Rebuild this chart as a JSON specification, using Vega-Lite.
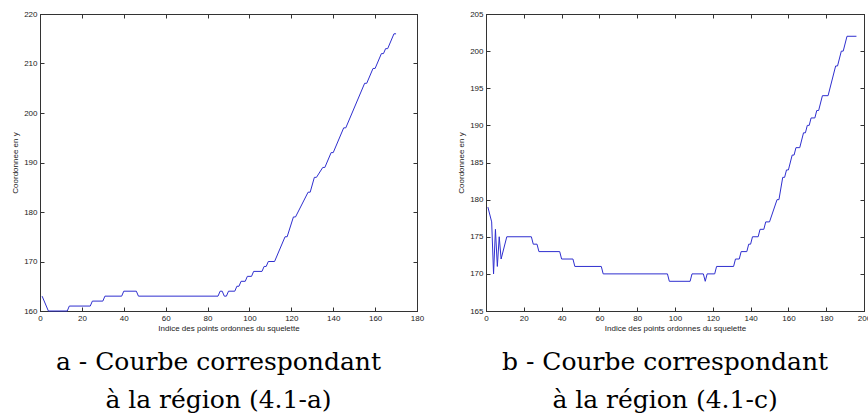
{
  "$schema": "https://vega.github.io/schema/vega-lite/v6.json",
  "padding": {"left": 11, "top": 9, "right": 0, "bottom": 0},
  "spacing": 69,
  "bounds": "flush",
  "config": {
    "view": {"stroke": "#333", "strokeWidth": 1},
    "axis": {
      "grid": false,
      "domainColor": "#333",
      "tickColor": "#333",
      "tickSize": -4,
      "labelPadding": 7,
      "labelFlush": false,
      "labelFont": "Liberation Sans",
      "labelFontSize": 8,
      "labelColor": "#222",
      "titleFont": "Liberation Sans",
      "titleFontSize": 8,
      "titleFontWeight": "normal",
      "titleColor": "#222"
    }
  },
  "hconcat": [
    {
      "width": 377,
      "height": 297,
      "title": {"text": ["a - Courbe correspondant", "à la région (4.1-a)"], "orient": "bottom", "frame": "group", "anchor": "middle", "dx": -10, "font": "DejaVu Serif", "fontSize": 25, "fontWeight": "normal", "lineHeight": 38, "offset": 18, "color": "#000"},
      "data": {"values": [
        {"i": 1, "y": 163}, {"i": 4, "y": 160}, {"i": 13, "y": 160}, {"i": 14, "y": 161}, {"i": 24, "y": 161}, {"i": 25, "y": 162}, {"i": 30, "y": 162}, {"i": 31, "y": 163}, {"i": 39, "y": 163}, {"i": 40, "y": 164}, {"i": 46, "y": 164}, {"i": 47, "y": 163}, {"i": 85, "y": 163}, {"i": 86, "y": 164}, {"i": 87, "y": 164}, {"i": 88, "y": 163}, {"i": 89, "y": 163}, {"i": 90, "y": 164}, {"i": 93, "y": 164}, {"i": 94, "y": 165}, {"i": 95, "y": 165}, {"i": 96, "y": 166}, {"i": 98, "y": 166}, {"i": 99, "y": 167}, {"i": 101, "y": 167}, {"i": 102, "y": 168}, {"i": 106, "y": 168}, {"i": 107, "y": 169}, {"i": 108, "y": 169}, {"i": 109, "y": 170}, {"i": 112, "y": 170}, {"i": 117, "y": 175}, {"i": 118, "y": 175}, {"i": 121, "y": 179}, {"i": 122, "y": 179}, {"i": 128, "y": 184}, {"i": 129, "y": 184}, {"i": 131, "y": 187}, {"i": 132, "y": 187}, {"i": 135, "y": 189}, {"i": 136, "y": 189}, {"i": 139, "y": 192}, {"i": 140, "y": 192}, {"i": 145, "y": 197}, {"i": 146, "y": 197}, {"i": 155, "y": 206}, {"i": 156, "y": 206}, {"i": 159, "y": 209}, {"i": 160, "y": 209}, {"i": 163, "y": 212}, {"i": 164, "y": 212}, {"i": 165, "y": 213}, {"i": 166, "y": 213}, {"i": 169, "y": 216}, {"i": 170, "y": 216}
      ]},
      "layer": [
        {
          "mark": {"type": "line", "color": "#2f2fcf", "strokeWidth": 1},
          "encoding": {
            "x": {"field": "i", "type": "quantitative", "scale": {"domain": [0, 180], "nice": false}, "axis": {"orient": "bottom", "values": [0, 20, 40, 60, 80, 100, 120, 140, 160, 180], "title": "Indice des points ordonnes du squelette", "titlePadding": 2}},
            "y": {"field": "y", "type": "quantitative", "scale": {"domain": [160, 220], "nice": false, "zero": false}, "axis": {"orient": "left", "values": [160, 170, 180, 190, 200, 210, 220], "title": "Coordonnee en y", "titlePadding": 4}}
          }
        },
        {
          "mark": {"type": "line", "opacity": 0},
          "encoding": {
            "x": {"field": "i", "type": "quantitative", "scale": {"domain": [0, 180], "nice": false}, "axis": {"orient": "top", "values": [0, 20, 40, 60, 80, 100, 120, 140, 160, 180], "labels": false, "title": null}},
            "y": {"field": "y", "type": "quantitative", "scale": {"domain": [160, 220], "nice": false, "zero": false}, "axis": {"orient": "right", "values": [160, 170, 180, 190, 200, 210, 220], "labels": false, "title": null}}
          }
        }
      ],
      "resolve": {"scale": {"x": "independent", "y": "independent"}}
    },
    {
      "width": 378,
      "height": 297,
      "title": {"text": ["b - Courbe correspondant", "à la région (4.1-c)"], "orient": "bottom", "frame": "group", "anchor": "middle", "dx": -10, "font": "DejaVu Serif", "fontSize": 25, "fontWeight": "normal", "lineHeight": 38, "offset": 18, "color": "#000"},
      "data": {"values": [
        {"i": 1, "y": 179}, {"i": 3, "y": 177}, {"i": 4, "y": 170}, {"i": 5, "y": 176}, {"i": 6, "y": 171}, {"i": 7, "y": 175}, {"i": 8, "y": 172}, {"i": 11, "y": 175}, {"i": 24, "y": 175}, {"i": 25, "y": 174}, {"i": 27, "y": 174}, {"i": 28, "y": 173}, {"i": 39, "y": 173}, {"i": 40, "y": 172}, {"i": 46, "y": 172}, {"i": 47, "y": 171}, {"i": 61, "y": 171}, {"i": 62, "y": 170}, {"i": 96, "y": 170}, {"i": 97, "y": 169}, {"i": 108, "y": 169}, {"i": 109, "y": 170}, {"i": 115, "y": 170}, {"i": 116, "y": 169}, {"i": 117, "y": 170}, {"i": 121, "y": 170}, {"i": 122, "y": 171}, {"i": 131, "y": 171}, {"i": 132, "y": 172}, {"i": 134, "y": 172}, {"i": 135, "y": 173}, {"i": 138, "y": 173}, {"i": 139, "y": 174}, {"i": 140, "y": 174}, {"i": 141, "y": 175}, {"i": 144, "y": 175}, {"i": 145, "y": 176}, {"i": 147, "y": 176}, {"i": 148, "y": 177}, {"i": 150, "y": 177}, {"i": 154, "y": 180}, {"i": 155, "y": 180}, {"i": 157, "y": 183}, {"i": 158, "y": 183}, {"i": 159, "y": 184}, {"i": 160, "y": 184}, {"i": 162, "y": 186}, {"i": 163, "y": 186}, {"i": 164, "y": 187}, {"i": 166, "y": 187}, {"i": 168, "y": 189}, {"i": 169, "y": 189}, {"i": 170, "y": 190}, {"i": 171, "y": 190}, {"i": 172, "y": 191}, {"i": 174, "y": 191}, {"i": 175, "y": 192}, {"i": 176, "y": 192}, {"i": 178, "y": 194}, {"i": 181, "y": 194}, {"i": 185, "y": 198}, {"i": 186, "y": 198}, {"i": 188, "y": 200}, {"i": 189, "y": 200}, {"i": 191, "y": 202}, {"i": 196, "y": 202}
      ]},
      "layer": [
        {
          "mark": {"type": "line", "color": "#2f2fcf", "strokeWidth": 1},
          "encoding": {
            "x": {"field": "i", "type": "quantitative", "scale": {"domain": [0, 200], "nice": false}, "axis": {"orient": "bottom", "values": [0, 20, 40, 60, 80, 100, 120, 140, 160, 180, 200], "title": "Indice des points ordonnes du squelette", "titlePadding": 2}},
            "y": {"field": "y", "type": "quantitative", "scale": {"domain": [165, 205], "nice": false, "zero": false}, "axis": {"orient": "left", "values": [165, 170, 175, 180, 185, 190, 195, 200, 205], "title": "Coordonnee en y", "titlePadding": 4}}
          }
        },
        {
          "mark": {"type": "line", "opacity": 0},
          "encoding": {
            "x": {"field": "i", "type": "quantitative", "scale": {"domain": [0, 200], "nice": false}, "axis": {"orient": "top", "values": [0, 20, 40, 60, 80, 100, 120, 140, 160, 180, 200], "labels": false, "title": null}},
            "y": {"field": "y", "type": "quantitative", "scale": {"domain": [165, 205], "nice": false, "zero": false}, "axis": {"orient": "right", "values": [165, 170, 175, 180, 185, 190, 195, 200, 205], "labels": false, "title": null}}
          }
        }
      ],
      "resolve": {"scale": {"x": "independent", "y": "independent"}}
    }
  ]
}
